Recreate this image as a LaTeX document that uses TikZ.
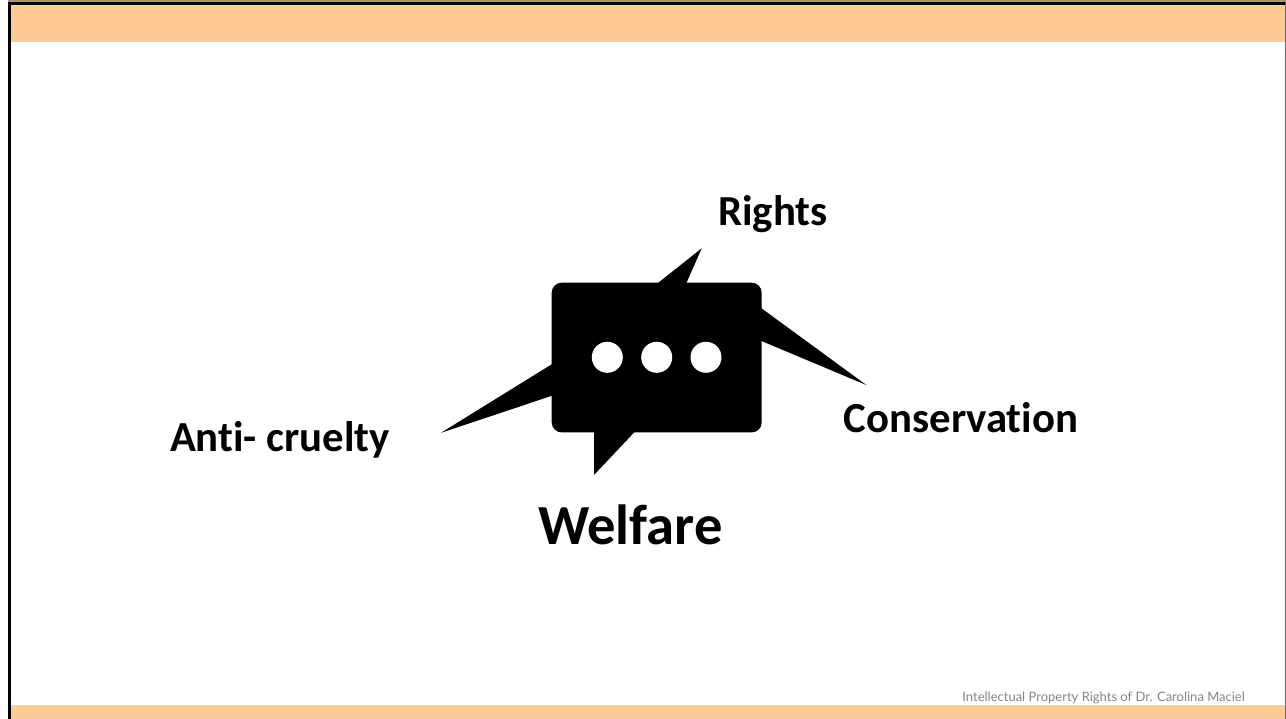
\documentclass[tikz,border=0pt]{standalone}
\usepackage{fontspec}
\setmainfont[Ligatures=NoCommon]{Carlito}
\newfontfamily\footfont{Lato}
\definecolor{band}{HTML}{FFCA96}
\definecolor{footgray}{HTML}{858585}
\tikzset{
  label text/.style={font=\bfseries\fontsize{#1}{#1}\selectfont,text=black,inner sep=0pt,anchor=base},
  bubble/.style={fill=black,draw=none},
  dot/.style={fill=white,draw=none},
}
\begin{document}
\begin{tikzpicture}[x=1pt,y=-1pt]
\useasboundingbox (0,0) rectangle (1286,719);
\fill[white] (0,0) rectangle (1286,719);
\fill[band!70!black] (8,0) rectangle (1286,2);
\fill[band] (9,3) rectangle (1284.5,42);
\fill[band] (9,705) rectangle (1284.5,719);
\fill[black] (8,2) rectangle (1285.5,5);
\fill[black] (8,2) rectangle (10.8,719);
\fill[black!60] (1284.5,2) rectangle (1285.5,719);
\fill[bubble,rounded corners=10pt] (551.7,282.7) rectangle (761.7,432.4);
\fill[bubble] (656.7,284) -- (701.7,248.3) -- (686,284) -- cycle;
\fill[bubble] (760,307.2) -- (866.3,385) -- (760,340.4) -- cycle;
\fill[bubble] (553,363.5) -- (441,432.8) -- (553,395.4) -- cycle;
\fill[bubble] (594,431) -- (594,475) -- (635.5,431) -- cycle;
\foreach \cx in {607.3,656.7,706}{\fill[dot] (\cx,357.3) circle (15.5);}
\node[label text=42.8] (rights) at (773,226) {Rights};
\node[label text=42.8] (conservation) at (961,432.5) {Conservation};
\node[label text=42.8] (anticruelty) at (280,451.5) {Anti- cruelty};
\node[label text=56.6] (welfare) at (630.5,544) {Welfare};
\node[font=\footfont\fontsize{13}{13}\selectfont,text=footgray,inner sep=0pt,anchor=base east] (foot) at (1245,701) {Intellectual Property Rights of Dr. Carolina Maciel};
\end{tikzpicture}
\end{document}
